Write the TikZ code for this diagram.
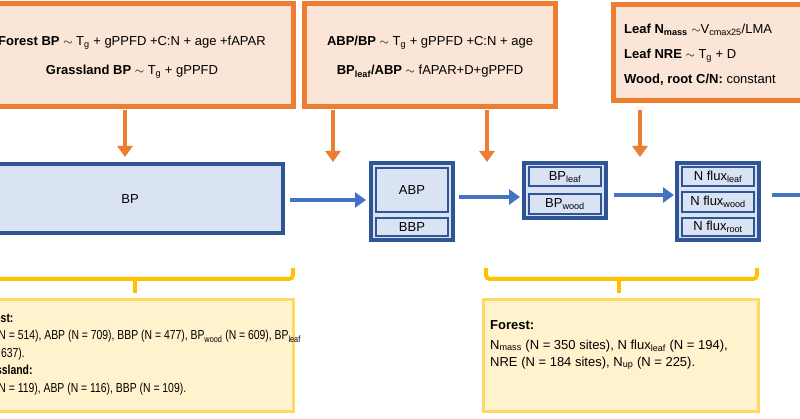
\documentclass[tikz,border=0pt]{standalone}
\usepackage{fontspec}
\setmainfont{Liberation Sans}
\usetikzlibrary{arrows.meta}
\definecolor{ob}{HTML}{EC7D31}
\definecolor{of}{HTML}{FBE5D6}
\definecolor{db}{HTML}{2F5597}
\definecolor{lb}{HTML}{DAE3F3}
\definecolor{ab}{HTML}{4472C4}
\definecolor{yb}{HTML}{FFC000}
\definecolor{yl}{HTML}{FFD966}
\definecolor{yf}{HTML}{FFF2CC}
\tikzset{
 obox/.style={draw=ob,fill=of,line width=5pt},
 dbox/.style={draw=db,fill=lb,line width=4pt},
 ibox/.style={draw=db,fill=lb,line width=2pt,inner sep=0pt,align=center,font=\fontsize{13}{17}\selectfont},
 ybox/.style={draw=yl,fill=yf,line width=3pt},
 oarr/.style={draw=ob,line width=4pt,-{Triangle[length=11pt,width=15pt]}},
 barr/.style={draw=ab,line width=4pt,-{Triangle[length=11pt,width=15pt]}},
 brace/.style={draw=yb,line width=4pt,rounded corners=4pt},
 txt/.style={font=\fontsize{13}{17}\selectfont,inner sep=0pt},
}
\begin{document}
\begin{tikzpicture}[x=1pt,y=-1pt]
\useasboundingbox (0,0) rectangle (800,419);
\clip (0,0) rectangle (800,419);
% orange boxes
\draw[obox] (-40,4) rectangle (293,107);
\draw[obox] (304,4) rectangle (555,107);
\draw[obox] (613,5) rectangle (830,101);
\node[txt,align=center] (t1) at (132,57) {\textbf{Forest BP} $\sim$ T\textsubscript{g} + gPPFD +C:N + age +fAPAR\\[12pt]\textbf{Grassland BP} $\sim$ T\textsubscript{g} + gPPFD};
\node[txt,align=center] (t2) at (430,57) {\textbf{ABP/BP} $\sim$ T\textsubscript{g} + gPPFD +C:N + age\\[12pt]\textbf{BP\textsubscript{leaf}/ABP} $\sim$ fAPAR+D+gPPFD};
\node[txt,align=left,anchor=west] (t3) at (624,55) {\textbf{Leaf N\textsubscript{mass}} $\sim$V\textsubscript{cmax25}/LMA\\[8pt]\textbf{Leaf NRE} $\sim$ T\textsubscript{g} + D\\[8pt]\textbf{Wood, root C/N:} constant};
% orange arrows
\coordinate (o1s) at (125,110); \coordinate (o1e) at (125,157);
\coordinate (o2s) at (333,110); \coordinate (o2e) at (333,162);
\coordinate (o3s) at (487,110); \coordinate (o3e) at (487,162);
\coordinate (o4s) at (640,110); \coordinate (o4e) at (640,157);
\draw[oarr] (o1s) -- (o1e);
\draw[oarr] (o2s) -- (o2e);
\draw[oarr] (o3s) -- (o3e);
\draw[oarr] (o4s) -- (o4e);
% blue boxes
\draw[dbox] (-40,164) rectangle (283,233);
\node[txt] (bp) at (130,199) {BP};
\draw[dbox] (371,163) rectangle (453,240);
\node[ibox,minimum width=72pt,minimum height=44pt] (abp) at (412,190) {ABP};
\node[ibox,minimum width=72pt,minimum height=18pt] (bbp) at (412,227) {BBP};
\draw[dbox] (524,163) rectangle (606,218);
\node[ibox,minimum width=72pt,minimum height=19pt] (bpl) at (565,177) {BP\textsubscript{leaf}};
\node[ibox,minimum width=72pt,minimum height=20pt] (bpw) at (565,204) {BP\textsubscript{wood}};
\draw[dbox] (677,163) rectangle (759,240);
\node[ibox,minimum width=72pt,minimum height=19pt] (nl) at (718,177) {N flux\textsubscript{leaf}};
\node[ibox,minimum width=72pt,minimum height=20pt] (nw) at (718,202) {N flux\textsubscript{wood}};
\node[ibox,minimum width=72pt,minimum height=18pt] (nr) at (718,227) {N flux\textsubscript{root}};
% blue arrows
\coordinate (b1s) at (290,200); \coordinate (b1e) at (366,200);
\coordinate (b2s) at (459,197); \coordinate (b2e) at (520,197);
\coordinate (b3s) at (614,195); \coordinate (b3e) at (674,195);
\coordinate (b4s) at (772,195); \coordinate (b4e) at (830,195);
\draw[barr] (b1s) -- (b1e);
\draw[barr] (b2s) -- (b2e);
\draw[barr] (b3s) -- (b3e);
\draw[barr] (b4s) -- (b4e);
% braces
\draw[brace] (-60,268) -- (-60,279) -- (293,279) -- (293,268);
\draw[draw=yb,line width=4pt] (135,279) -- (135,293);
\draw[brace] (486,268) -- (486,279) -- (757,279) -- (757,268);
\draw[draw=yb,line width=4pt] (619,279) -- (619,293);
% yellow boxes
\draw[ybox] (-40,300) rectangle (293,411);
\draw[ybox] (483,300) rectangle (758,411);
\node[txt,align=left,anchor=north west,font=\fontsize{13}{17.5}\selectfont\addfontfeature{FakeStretch=0.8}] (yt1) at (-22,313) {\textbf{Forest:}\\BP (N = 514), ABP (N = 709), BBP (N = 477), BP\textsubscript{wood} (N = 609), BP\textsubscript{leaf}\\(N = 637).\\\textbf{Grassland:}\\BP (N = 119), ABP (N = 116), BBP (N = 109).};
\node[txt,align=left,anchor=north west,font=\fontsize{13}{17}\selectfont] (yt2) at (490,320) {\textbf{Forest:}\\[3pt]N\textsubscript{mass} (N = 350 sites), N flux\textsubscript{leaf} (N = 194),\\NRE (N = 184 sites), N\textsubscript{up} (N = 225).};
\end{tikzpicture}
\end{document}
